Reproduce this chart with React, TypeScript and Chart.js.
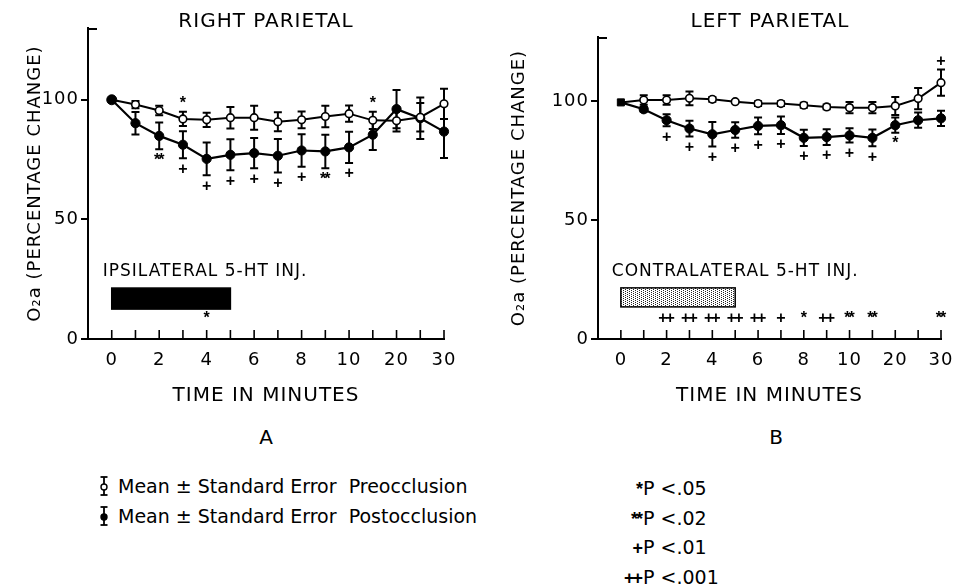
import React, { useEffect, useRef } from 'react';
import { Chart, registerables } from 'chart.js';

Chart.register(...registerables);

const FONT = '"DejaVu Sans", sans-serif';
const MARK_FONT = '"Liberation Sans", sans-serif';

// Time axis categories (minutes) and which are labelled
const timeMinutes = [0, 1, 2, 3, 4, 5, 6, 7, 8, 9, 10, 15, 20, 25, 30];
const labeledMinutes = [0, 2, 4, 6, 8, 10, 20, 30];
const yTickValues = [0, 50, 100];

// Panel A: RIGHT PARIETAL (ipsilateral injection)
const rightParietalPre = [100, 98, 95.5, 92, 91.6, 92.5, 92.5, 90.8, 91.6, 93, 94.2, 91.4, 91.2, 92.7, 98.3];
const rightParietalPreErr = [0, 1.5, 2, 3, 3, 4.5, 5, 4, 3.5, 4.5, 3.4, 3.6, 4.5, 6, 6.3];
const rightParietalPost = [100, 90.2, 84.9, 81.2, 75.3, 77, 77.7, 76.6, 78.8, 78.4, 80.1, 85.4, 96.1, 92.3, 86.7];
const rightParietalPostErr = [0, 4.7, 5.6, 5.6, 6.8, 6.5, 6.3, 7, 6.8, 7, 6.5, 6.4, 8, 8.7, 11];
const rightParietalPreMarks = ['', '', '', '*', '', '', '', '', '', '', '', '*', '', '', ''];
const rightParietalPostMarks = ['', '', '**', '+', '+', '+', '+', '+', '+', '**', '+', '', '', '', ''];
const rightParietalAxisMarks = ['', '', '', '', '*', '', '', '', '', '', '', '', '', '', ''];

// Panel B: LEFT PARIETAL (contralateral injection)
const leftParietalPre = [99.5, 100.5, 100.5, 101.2, 100.8, 99.8, 99, 99, 98.3, 97.6, 97.3, 97.3, 98, 101.1, 107.8];
const leftParietalPreErr = [0, 2, 2, 2.9, 1, 0.5, 1, 1, 1, 1, 2.4, 2.4, 3.8, 4.5, 5.5];
const leftParietalPost = [99.5, 96.6, 92, 88.5, 86.1, 87.9, 89.6, 89.9, 84.6, 84.9, 85.6, 84.6, 89.9, 92, 92.8];
const leftParietalPostErr = [0, 1, 2.5, 3.3, 5.2, 3.3, 3.5, 3.7, 3.4, 3.3, 3, 3.5, 3.2, 3.2, 3.2];
const leftParietalPreMarks = ['', '', '', '', '', '', '', '', '', '', '', '', '', '', '+'];
const leftParietalPostMarks = ['', '', '+', '+', '+', '+', '+', '+', '+', '+', '+', '+', '*', '', ''];
const leftParietalAxisMarks = ['', '', '++', '++', '++', '++', '++', '+', '*', '++', '**', '**', '', '', '**'];

// Injection periods (time index range) and vertical extent (value units)
const ipsilateralInjection = { start: 0, end: 5, low: 12.5, high: 21.3, label: 'IPSILATERAL 5-HT INJ.' };
const contralateralInjection = { start: 0, end: 5, low: 13.5, high: 21.5, label: 'CONTRALATERAL 5-HT INJ.' };

function makeStipple(ctx: CanvasRenderingContext2D) {
  const c = document.createElement('canvas');
  c.width = 4;
  c.height = 2;
  const g = c.getContext('2d')!;
  g.fillStyle = '#fff';
  g.fillRect(0, 0, 4, 2);
  g.fillStyle = '#222';
  g.fillRect(0, 0, 1, 1);
  g.fillRect(2, 1, 1, 1);
  return ctx.createPattern(c, 'repeat');
}

function setSpacing(chart: any) {
  try {
    (chart.ctx as any).letterSpacing = '1px';
  } catch (e) {
    /* ignore */
  }
}

const panelPlugin = {
  id: 'panelExtras',
  beforeUpdate(chart: any) {
    setSpacing(chart);
  },
  beforeDraw(chart: any) {
    setSpacing(chart);
  },
  beforeDatasetsDraw(chart: any, _args: any, opts: any) {
    const { ctx, scales: { x, y }, chartArea } = chart;
    ctx.save();
    ctx.strokeStyle = '#000';
    ctx.fillStyle = '#000';
    // inward x tick marks
    ctx.lineWidth = 1.6;
    const yb = y.getPixelForValue(0);
    timeMinutes.forEach((_m, i) => {
      const px = x.getPixelForValue(i);
      ctx.beginPath();
      ctx.moveTo(px, yb);
      ctx.lineTo(px, yb - 9);
      ctx.stroke();
    });
    // top tick of y axis
    ctx.lineWidth = 2;
    ctx.beginPath();
    ctx.moveTo(chartArea.left, chartArea.top + 1);
    ctx.lineTo(chartArea.left + 9, chartArea.top + 1);
    ctx.stroke();
    // injection bar
    const inj = opts.injection;
    const x0 = x.getPixelForValue(inj.start);
    const x1 = x.getPixelForValue(inj.end);
    const y0 = y.getPixelForValue(inj.high);
    const y1 = y.getPixelForValue(inj.low);
    ctx.fillStyle = opts.stipple ? makeStipple(ctx) : '#000';
    ctx.fillRect(x0, y0, x1 - x0, y1 - y0);
    ctx.lineWidth = 1.5;
    ctx.strokeRect(x0, y0, x1 - x0, y1 - y0);
    ctx.fillStyle = '#000';
    ctx.font = `17px ${FONT}`;
    ctx.textAlign = 'left';
    ctx.textBaseline = 'middle';
    ctx.fillText(inj.label, x0 - 9, y0 - 16);
    // error bars
    ctx.lineWidth = 2;
    const series = [
      [opts.pre, opts.preErr],
      [opts.post, opts.postErr],
    ];
    series.forEach(([vals, errs]: any) => {
      vals.forEach((v: number, i: number) => {
        const e = errs[i];
        if (!e) return;
        const px = x.getPixelForValue(i);
        const pt = y.getPixelForValue(v + e);
        const pb = y.getPixelForValue(v - e);
        ctx.beginPath();
        ctx.moveTo(px, pt);
        ctx.lineTo(px, pb);
        ctx.moveTo(px - 4, pt);
        ctx.lineTo(px + 4, pt);
        ctx.moveTo(px - 4, pb);
        ctx.lineTo(px + 4, pb);
        ctx.stroke();
      });
    });
    ctx.restore();
  },
  afterDatasetsDraw(chart: any, _args: any, opts: any) {
    const { ctx, scales: { x, y } } = chart;
    ctx.save();
    try {
      ctx.letterSpacing = '-2px';
    } catch (e) {
      /* ignore */
    }
    ctx.fillStyle = '#000';
    ctx.font = `bold 16px ${MARK_FONT}`;
    ctx.textAlign = 'center';
    ctx.textBaseline = 'middle';
    opts.preMarks.forEach((m: string, i: number) => {
      if (!m) return;
      const py = y.getPixelForValue(opts.pre[i] + opts.preErr[i]);
      ctx.fillText(m, x.getPixelForValue(i) - 1, py - 8);
    });
    opts.postMarks.forEach((m: string, i: number) => {
      if (!m) return;
      const py = y.getPixelForValue(opts.post[i] - opts.postErr[i]);
      ctx.fillText(m, x.getPixelForValue(i) - 1, py + 11);
    });
    opts.axisMarks.forEach((m: string, i: number) => {
      if (!m) return;
      ctx.fillText(m, x.getPixelForValue(i) - 1, y.getPixelForValue(8.5));
    });
    ctx.restore();
  },
};

interface PanelProps {
  pre: number[];
  preErr: number[];
  post: number[];
  postErr: number[];
  preMarks: string[];
  postMarks: string[];
  axisMarks: string[];
  injection: any;
  stipple: boolean;
  yMax: number;
  yWidth: number;
  padTop: number;
  padRight: number;
  yTitlePad: number;
  squareStart: boolean;
}

function Panel(p: PanelProps & { left: number; width: number; height: number }) {
  const ref = useRef<HTMLCanvasElement>(null);
  useEffect(() => {
    const pointStyle = (c: any) => (p.squareStart && c.dataIndex === 0 ? 'rect' : 'circle');
    const chart = new Chart(ref.current!, {
      type: 'line',
      data: {
        datasets: [
          {
            label: 'Preocclusion',
            data: p.pre.map((v, i) => ({ x: i, y: v })),
            borderColor: '#000',
            borderWidth: 2,
            pointRadius: (c: any) => (c.dataIndex === 0 ? 0 : 3.8),
            pointStyle,
            pointBackgroundColor: '#fff',
            pointBorderColor: '#000',
            pointBorderWidth: 1.6,
            clip: false,
          },
          {
            label: 'Postocclusion',
            data: p.post.map((v, i) => ({ x: i, y: v })),
            borderColor: '#000',
            borderWidth: 2.2,
            pointRadius: (c: any) => (c.dataIndex === 0 ? 5 : 4.6),
            pointStyle,
            pointBackgroundColor: '#000',
            pointBorderColor: '#000',
            pointBorderWidth: 1,
            clip: false,
          },
        ],
      },
      options: {
        animation: false,
        responsive: false,
        events: [],
        layout: { padding: { left: 0, right: p.padRight, top: p.padTop, bottom: 0 } },
        plugins: {
          legend: { display: false },
          tooltip: { enabled: false },
          title: { display: false },
          panelExtras: {
            pre: p.pre,
            preErr: p.preErr,
            post: p.post,
            postErr: p.postErr,
            preMarks: p.preMarks,
            postMarks: p.postMarks,
            axisMarks: p.axisMarks,
            injection: p.injection,
            stipple: p.stipple,
          },
        } as any,
        scales: {
          x: {
            type: 'linear',
            min: -1,
            max: timeMinutes.length - 1,
            afterBuildTicks: (s: any) => {
              s.ticks = timeMinutes.map((_m, i) => ({ value: i }));
            },
            afterFit: (s: any) => {
              s.height = 72;
            },
            grid: { display: false },
            border: { display: true, color: '#000', width: 2 },
            ticks: {
              autoSkip: false,
              maxRotation: 0,
              padding: 3,
              color: '#000',
              font: { family: FONT, size: 18 },
              callback: (v: any) => {
                const m = timeMinutes[v];
                return labeledMinutes.includes(m) ? String(m) : '';
              },
            },
            title: {
              display: true,
              text: 'TIME IN MINUTES',
              color: '#000',
              font: { family: FONT, size: 20 },
              padding: { top: 0, bottom: 3 },
            },
          },
          y: {
            type: 'linear',
            min: 0,
            max: p.yMax,
            afterBuildTicks: (s: any) => {
              s.ticks = yTickValues.map((v) => ({ value: v }));
            },
            afterFit: (s: any) => {
              s.width = p.yWidth;
            },
            grid: { drawOnChartArea: false, color: '#000', lineWidth: 2, tickLength: 7 },
            border: { display: true, color: '#000', width: 2 },
            ticks: { padding: 2, color: '#000', font: { family: FONT, size: 18 } },
            title: {
              display: true,
              text: 'O₂a (PERCENTAGE CHANGE)',
              color: '#000',
              font: { family: FONT, size: 18 },
              padding: { top: p.yTitlePad, bottom: 0 },
            },
          },
        } as any,
      },
      plugins: [panelPlugin],
    });
    return () => chart.destroy();
  }, []);
  return (
    <div style={{ position: 'absolute', left: p.left, top: 0, width: p.width, height: p.height }}>
      <canvas ref={ref} width={p.width} height={p.height} />
    </div>
  );
}

function ErrIcon({ filled }: { filled: boolean }) {
  return (
    <svg width="12" height="22" viewBox="0 0 12 22" style={{ position: 'absolute', left: 0, top: 1 }}>
      <line x1="6" y1="2" x2="6" y2="20" stroke="#000" strokeWidth="1.8" />
      <line x1="2.5" y1="2" x2="9.5" y2="2" stroke="#000" strokeWidth="1.8" />
      <line x1="2.5" y1="20" x2="9.5" y2="20" stroke="#000" strokeWidth="1.8" />
      <circle cx="6" cy="12" r="3" fill={filled ? '#000' : '#fff'} stroke="#000" strokeWidth="1.4" />
    </svg>
  );
}

const legendRows = [
  { filled: false, text: 'Mean ± Standard Error  Preocclusion' },
  { filled: true, text: 'Mean ± Standard Error  Postocclusion' },
];
const pValueRows = [
  { sym: '*', text: 'P <.05' },
  { sym: '**', text: 'P <.02' },
  { sym: '+', text: 'P <.01' },
  { sym: '++', text: 'P <.001' },
];

export default function App() {
  const txt: React.CSSProperties = { position: 'absolute', color: '#000', fontFamily: FONT, whiteSpace: 'pre' };
  return (
    <div style={{ position: 'absolute', left: 0, top: 0, width: 966, height: 585, background: '#fff', overflow: 'hidden' }}>
      <Panel
        left={0}
        width={483}
        height={411}
        pre={rightParietalPre}
        preErr={rightParietalPreErr}
        post={rightParietalPost}
        postErr={rightParietalPostErr}
        preMarks={rightParietalPreMarks}
        postMarks={rightParietalPostMarks}
        axisMarks={rightParietalAxisMarks}
        injection={ipsilateralInjection}
        stipple={false}
        yMax={130}
        yWidth={88}
        padTop={28}
        padRight={39}
        yTitlePad={25}
        squareStart={false}
      />
      <Panel
        left={483}
        width={483}
        height={411}
        pre={leftParietalPre}
        preErr={leftParietalPreErr}
        post={leftParietalPost}
        postErr={leftParietalPostErr}
        preMarks={leftParietalPreMarks}
        postMarks={leftParietalPostMarks}
        axisMarks={leftParietalAxisMarks}
        injection={contralateralInjection}
        stipple={true}
        yMax={127}
        yWidth={115}
        padTop={37}
        padRight={25}
        yTitlePad={26}
        squareStart={true}
      />
      <div style={{ ...txt, left: 66, width: 400, top: 8, lineHeight: '24px', fontSize: 20, letterSpacing: 1, textAlign: 'center' }}>RIGHT PARIETAL</div>
      <div style={{ ...txt, left: 570, width: 400, top: 8, lineHeight: '24px', fontSize: 20, letterSpacing: 1, textAlign: 'center' }}>LEFT PARIETAL</div>
      <div style={{ ...txt, left: 246, width: 40, top: 425, lineHeight: '24px', fontSize: 20, textAlign: 'center' }}>A</div>
      <div style={{ ...txt, left: 756, width: 40, top: 425, lineHeight: '24px', fontSize: 20, textAlign: 'center' }}>B</div>
      {legendRows.map((r, i) => (
        <div key={i} style={{ ...txt, left: 98, top: 474 + i * 30, height: 24, lineHeight: '24px', fontSize: 19 }}>
          <ErrIcon filled={r.filled} />
          <span style={{ marginLeft: 20 }}>{r.text}</span>
        </div>
      ))}
      {pValueRows.map((r, i) => (
        <div key={i} style={{ ...txt, left: 600, top: 476 + i * 29.5, height: 24, lineHeight: '24px', fontSize: 19 }}>
          <span style={{ display: 'inline-block', width: 41, textAlign: 'right', fontSize: 18, fontWeight: 'bold', letterSpacing: -2, fontFamily: MARK_FONT }}>{r.sym}</span>
          <span style={{ marginLeft: 2 }}>{r.text}</span>
        </div>
      ))}
    </div>
  );
}
